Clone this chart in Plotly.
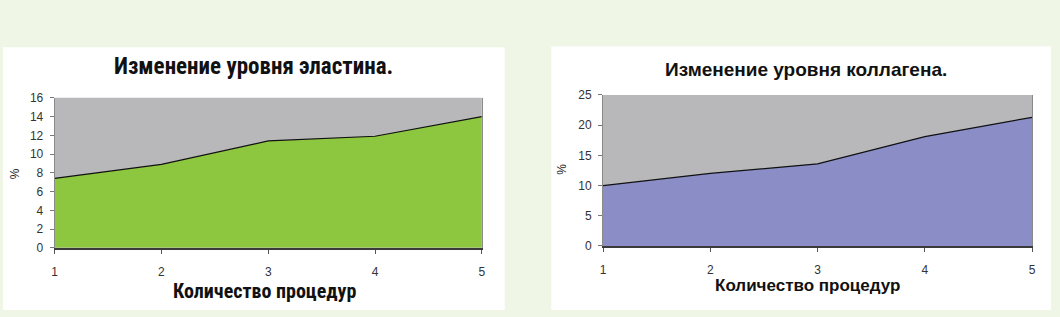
import plotly.graph_objects as go

procedures = [1, 2, 3, 4, 5]
elastin = [7.4, 8.9, 11.4, 11.9, 14.0]
collagen = [10.0, 12.0, 13.6, 18.1, 21.3]

title_left = "Изменение уровня эластина."
title_right = "Изменение уровня коллагена."
xtitle = "Количество процедур"
ytitle = "%"

W, H = 1060, 317
def px(x):
    return x / W
def py(y):
    return 1 - y / H

GRAY = "#b8b8ba"

fig = go.Figure()
fig.add_trace(go.Scatter(x=procedures, y=elastin, mode="lines", fill="tozeroy",
                         fillcolor="#8dc63f", line=dict(color="#111111", width=1.2),
                         xaxis="x", yaxis="y", showlegend=False, hoverinfo="skip"))
fig.add_trace(go.Scatter(x=procedures, y=collagen, mode="lines", fill="tozeroy",
                         fillcolor="#8a8dc6", line=dict(color="#111111", width=1.2),
                         xaxis="x2", yaxis="y2", showlegend=False, hoverinfo="skip"))

tickfont = dict(family="Liberation Sans, Arial", size=12, color="#333333")
xaxis_common = dict(showgrid=False, zeroline=False, ticks="outside", ticklen=4,
                    tickcolor="#555555", tickfont=tickfont, showline=True,
                    linecolor="#3a3a3a", linewidth=2, fixedrange=True,
                    ticklabelstandoff=8)
yaxis_common = dict(showgrid=False, zeroline=False, ticks="outside", ticklen=4,
                    tickcolor="#777777", tickfont=tickfont, showline=True, mirror=True,
                    linecolor="#8a8a8a", linewidth=1, fixedrange=True,
                    ticklabelstandoff=4)

fig.update_layout(
    width=W, height=H,
    margin=dict(l=0, r=0, t=0, b=0),
    paper_bgcolor="#f0f6e6",
    plot_bgcolor=GRAY,
    xaxis=dict(domain=[px(52), px(482)], range=[1, 5], tickvals=procedures,
               anchor="y", **xaxis_common),
    yaxis=dict(domain=[py(252), py(95)], range=[0, 16], dtick=2,
               anchor="x", **yaxis_common),
    xaxis2=dict(domain=[px(604), px(1036)], range=[1, 5], tickvals=procedures,
                anchor="y2", **xaxis_common),
    yaxis2=dict(domain=[py(250), py(92)], range=[0, 25], dtick=5,
                anchor="x2", **yaxis_common),
    shapes=[
        dict(type="rect", xref="paper", yref="paper", x0=px(0), x1=px(505),
             y0=0, y1=py(42), fillcolor="white", line=dict(width=0), layer="below"),
        dict(type="rect", xref="paper", yref="paper", x0=px(552), x1=px(1055),
             y0=0, y1=py(41), fillcolor="white", line=dict(width=0), layer="below"),
        dict(type="rect", xref="x domain", yref="y domain", x0=0, x1=1, y0=0, y1=1,
             fillcolor=GRAY, line=dict(width=0), layer="below"),
        dict(type="rect", xref="x2 domain", yref="y2 domain", x0=0, x1=1, y0=0, y1=1,
             fillcolor=GRAY, line=dict(width=0), layer="below"),
    ],
    annotations=[
        dict(text="<b>" + title_left + "</b>", x=px(252), y=py(62), xref="paper", yref="paper",
             xanchor="center", yanchor="middle",
             showarrow=False, font=dict(family="Liberation Sans Narrow, Arial Narrow, Roboto Condensed, sans-serif",
                                        size=23, color="#111111")),
        dict(text="<b>" + xtitle + "</b>", x=px(263), y=py(297), xref="paper", yref="paper",
             xanchor="center", yanchor="middle",
             showarrow=False, font=dict(family="Liberation Sans Narrow, Arial Narrow, Roboto Condensed, sans-serif",
                                        size=20, color="#111111")),
        dict(text=ytitle, x=px(12), y=py(174), xref="paper", yref="paper", textangle=-90,
             xanchor="center", yanchor="middle",
             showarrow=False, font=dict(family="Liberation Sans, Arial", size=12, color="#222222")),
        dict(text="<b>" + title_right + "</b>", x=px(808), y=py(65), xref="paper", yref="paper",
             xanchor="center", yanchor="middle",
             showarrow=False, font=dict(family="Liberation Sans, Arial", size=19, color="#111111")),
        dict(text="<b>" + xtitle + "</b>", x=px(810), y=py(291), xref="paper", yref="paper",
             xanchor="center", yanchor="middle",
             showarrow=False, font=dict(family="Liberation Sans, Arial", size=17, color="#111111")),
        dict(text=ytitle, x=px(563), y=py(170), xref="paper", yref="paper", textangle=-90,
             xanchor="center", yanchor="middle",
             showarrow=False, font=dict(family="Liberation Sans, Arial", size=12, color="#222222")),
    ],
)

fig.write_html("out.html")
